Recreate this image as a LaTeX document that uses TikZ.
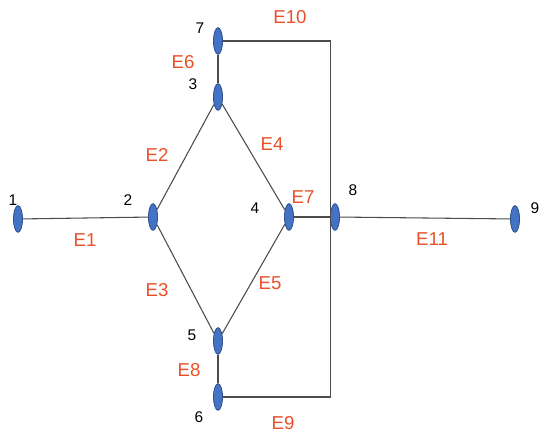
\documentclass[tikz,border=0pt]{standalone}
\usepackage{fontspec}
\setmainfont{Liberation Sans}
\usetikzlibrary{shapes.geometric}

\definecolor{vertexblue}{HTML}{4472C4}
\definecolor{vertexedge}{HTML}{2F528F}
\definecolor{edgered}{HTML}{E8502A}

\begin{document}
\begin{tikzpicture}[
    x=0.75pt, y=-0.75pt,
    vertex/.style={
        ellipse,
        draw=vertexedge,
        fill=vertexblue,
        line width=0.6pt,
        minimum width=6.8pt,
        minimum height=20pt,
        inner sep=0pt
    },
    num/.style={
        font=\fontsize{11.6}{13}\selectfont,
        inner sep=0pt
    },
    elabel/.style={
        text=edgered,
        font=\fontsize{14}{16}\selectfont,
        inner sep=0pt
    },
    link/.style={
        draw=black!70,
        line width=0.8pt
    }
]
\useasboundingbox (0,0) rectangle (540,434);

\node[vertex] (v1) at (18,219) {};
\node[vertex] (v2) at (153,217) {};
\node[vertex] (v3) at (218,97) {};
\node[vertex] (v4) at (289,217) {};
\node[vertex] (v5) at (218,341) {};
\node[vertex] (v6) at (218,397) {};
\node[vertex] (v7) at (218,41) {};
\node[vertex] (v8) at (335,217) {};
\node[vertex] (v9) at (515,219) {};

\node[num] at (13,200) {1};
\node[num] at (128,200) {2};
\node[num] at (193,84) {3};
\node[num] at (255,208) {4};
\node[num] at (192,335) {5};
\node[num] at (199,417) {6};
\node[num] at (200,28) {7};
\node[num] at (353,190) {8};
\node[num] at (535,208) {9};

\draw[link] (v1) -- (v2);
\draw[link] (v2) -- (v3);
\draw[link] (v2) -- (v5);
\draw[link] (v3) -- (v4);
\draw[link] (v5) -- (v4);
\draw[link] (v3) -- (v7);
\draw[link] (v5) -- (v6);
\draw[link] (v4) -- (v8);
\draw[link] (v8) -- (v9);
\draw[link] (v7) -| (v8.west);
\draw[link] (v6) -| (v8.west);

\node[elabel] at (85,240) {E1};
\node[elabel] at (157,155) {E2};
\node[elabel] at (157,290) {E3};
\node[elabel] at (272,144) {E4};
\node[elabel] at (270,283) {E5};
\node[elabel] at (183,62) {E6};
\node[elabel] at (303,197) {E7};
\node[elabel] at (189,370) {E8};
\node[elabel] at (283,423) {E9};
\node[elabel] at (290,17) {E10};
\node[elabel] at (432,239) {E11};

\end{tikzpicture}
\end{document}
